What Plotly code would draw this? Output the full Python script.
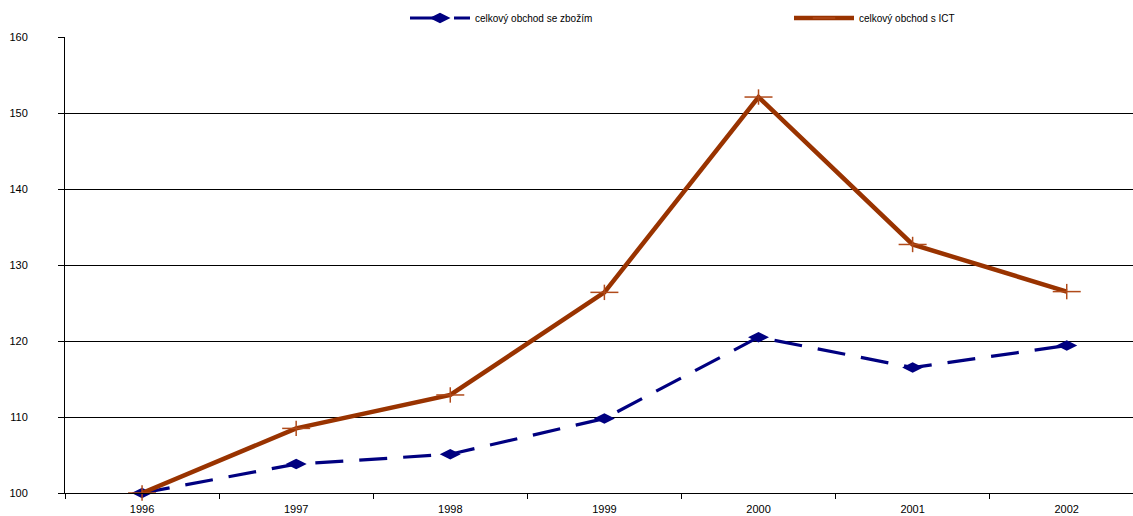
import plotly.graph_objects as go

years = ["1996", "1997", "1998", "1999", "2000", "2001", "2002"]
goods_trade = [100, 103.8, 105.1, 109.8, 120.5, 116.5, 119.4]
ict_trade = [100, 108.5, 112.9, 126.4, 152.1, 132.7, 126.5]
y_ticks = [100, 110, 120, 130, 140, 150, 160]

FONT_FAMILY = "Liberation Sans, Arial, sans-serif"
ICT_MARK = "#b04a1a"

fig = go.Figure()

fig.add_trace(go.Scatter(
    x=years, y=goods_trade, name="celkový obchod se zbožím",
    mode="lines+markers",
    line=dict(color="#000080", width=3.2, dash="28px,16px"),
    marker=dict(symbol="diamond-wide", size=15, color="#000080"),
    cliponaxis=False, legend="legend",
))
fig.add_trace(go.Scatter(
    x=years, y=ict_trade, name="celkový obchod s ICT",
    mode="lines+markers",
    line=dict(color="#993300", width=4.5),
    marker=dict(symbol="line-ew", size=20, color=ICT_MARK,
                line=dict(color=ICT_MARK, width=1.5)),
    cliponaxis=False, legend="legend2",
))
# short vertical arm of the ICT "+" markers
fig.add_trace(go.Scatter(
    x=years, y=ict_trade, name="celkový obchod s ICT",
    mode="markers", showlegend=False, hoverinfo="skip",
    marker=dict(symbol="line-ns", size=11, color=ICT_MARK,
                line=dict(color=ICT_MARK, width=1.5)),
    cliponaxis=False, legend="legend2",
))

legend_common = dict(
    orientation="h", xanchor="left", yanchor="middle",
    xref="container", yref="container", y=1 - 18 / 516,
    itemwidth=60,
    font=dict(family=FONT_FAMILY, size=10, color="#000000"),
    bgcolor="rgba(0,0,0,0)", borderwidth=0,
)

fig.update_layout(
    width=1133, height=516,
    margin=dict(l=65, r=0, t=37, b=23, autoexpand=False),
    paper_bgcolor="white", plot_bgcolor="white",
    font=dict(family=FONT_FAMILY, size=11, color="#000000"),
    showlegend=True,
    legend=dict(legend_common, x=405 / 1133),
    legend2=dict(legend_common, x=789 / 1133),
    xaxis=dict(
        type="category", range=[-0.5, 6.43],
        showline=True, linecolor="#000000", linewidth=1,
        ticks="outside", ticklen=5, tickcolor="#000000", tickson="boundaries",
        showgrid=False, zeroline=False, ticklabelstandoff=6,
        tickfont=dict(family=FONT_FAMILY, size=11),
    ),
    yaxis=dict(
        range=[100, 160], tickvals=y_ticks,
        showline=True, linecolor="#000000", linewidth=1,
        ticks="outside", ticklen=6, tickcolor="#000000",
        showgrid=True, gridcolor="#000000", gridwidth=1,
        zeroline=False, ticklabelstandoff=28,
        tickfont=dict(family=FONT_FAMILY, size=11),
    ),
)

fig.write_html("out.html")
